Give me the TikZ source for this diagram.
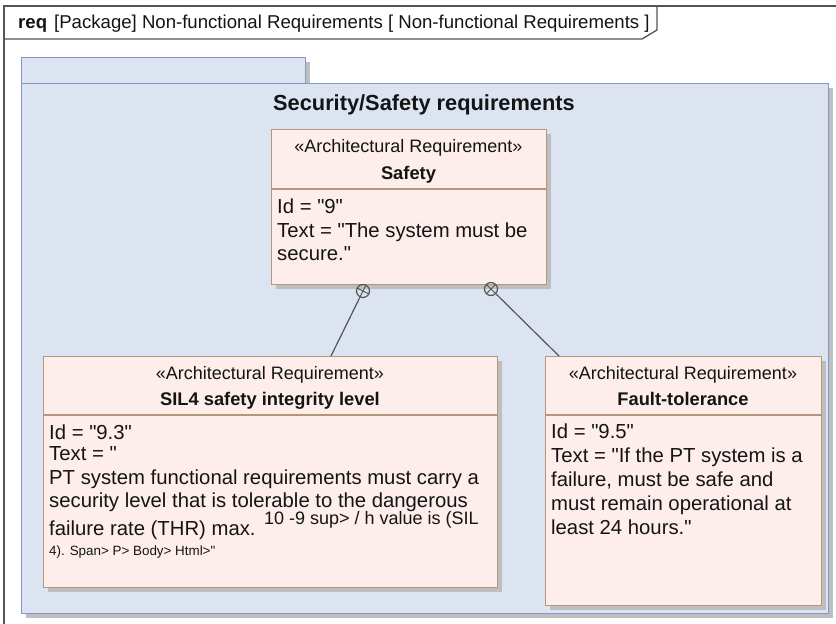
\documentclass[tikz,border=0pt]{standalone}
\usepackage{fontspec}
\setmainfont{Liberation Sans}
\usetikzlibrary{calc,shadows}

\definecolor{pkgfill}{RGB}{220,227,241}
\definecolor{pkgline}{RGB}{132,152,200}
\definecolor{reqfill}{RGB}{253,238,236}
\definecolor{reqline}{RGB}{182,150,122}
\definecolor{shade}{RGB}{190,190,190}
\definecolor{ink}{RGB}{20,20,20}
\definecolor{frameline}{RGB}{85,85,85}

\tikzset{
  boxshadow/.style={drop shadow={shadow xshift=4pt, shadow yshift=-4pt, fill=shade, opacity=1}},
  pkgbox/.style={draw=pkgline, fill=pkgfill, line width=1pt, boxshadow, inner sep=0pt, anchor=north west},
  reqbox/.style={draw=reqline, fill=reqfill, line width=1.4pt, boxshadow, inner sep=0pt, anchor=north west},
  divider/.style={draw=reqline, line width=1.4pt},
  frame/.style={draw=frameline, line width=1.3pt},
  hdrtext/.style={anchor=base west, inner sep=0pt, text=ink, font=\fontsize{18.6}{22}\selectfont},
  pkgtitle/.style={anchor=base, inner sep=0pt, text=ink, font=\fontsize{21.8}{26}\selectfont\bfseries},
  stereo/.style={anchor=base, inner sep=0pt, text=ink, font=\fontsize{18}{21}\selectfont},
  rname/.style={anchor=base, inner sep=0pt, text=ink, font=\fontsize{18.3}{22}\selectfont\bfseries},
  body/.style={anchor=base west, inner sep=0pt, text=ink, font=\fontsize{20.3}{24}\selectfont},
  smallbody/.style={anchor=base west, inner sep=0pt, text=ink, font=\fontsize{13.4}{16}\selectfont},
  suptext/.style={anchor=base west, inner sep=0pt, text=ink, font=\fontsize{18}{21}\selectfont},
  conn/.style={draw=frameline, line width=1.2pt},
  marker/.style={circle, draw=frameline, line width=1.2pt, minimum size=13pt, inner sep=0pt},
}

\begin{document}
\begin{tikzpicture}[x=1pt, y=-1pt]
  \useasboundingbox (0,0) rectangle (836,624);
  \fill[white] (0,0) rectangle (836,624);

  % diagram frame and its name tab
  \draw[frame] (4,624) -- (4,6) -- (836,6);
  \draw[frame] (4,39) -- (642,39) -- (657,30) -- (657,6);
  \node[hdrtext] (hdr) at (18,28)
    {\textbf{req}\hspace{7pt}[Package] Non-functional Requirements [ Non-functional Requirements ]};

  % package with its tab
  \node[pkgbox, minimum width=284pt, minimum height=26pt] (pkgtab) at (21,57) {};
  \node[pkgbox, minimum width=807pt, minimum height=530pt] (pkg) at (21,83) {};
  \node[pkgtitle] (pkgname) at (424,110) {Security/Safety requirements};

  % requirement: Safety
  \node[reqbox, minimum width=275pt, minimum height=155pt] (safety) at (271,129) {};
  \draw[divider] (safety.west |- 0,189) -- (safety.east |- 0,189);
  \node[stereo] (safetyst) at (408.5,152) {«Architectural Requirement»};
  \node[rname] (safetynm) at (408.5,179) {Safety};
  \node[body] (b1) at (277,213) {Id = \textquotedbl 9\textquotedbl};
  \node[body] (b2) at (277,237) {Text = \textquotedbl The system must be};
  \node[body] (b3) at (277,260) {secure.\textquotedbl};

  % requirement: SIL4 safety integrity level
  \node[reqbox, minimum width=454pt, minimum height=231pt] (sil) at (43,356) {};
  \draw[divider] (sil.west |- 0,415) -- (sil.east |- 0,415);
  \node[stereo] (silst) at (270,379) {«Architectural Requirement»};
  \node[rname] (silnm) at (270,405) {SIL4 safety integrity level};
  \node[body] (s1) at (49,439) {Id = \textquotedbl 9.3\textquotedbl};
  \node[body] (s2) at (49,460) {Text = \textquotedbl};
  \node[body] (s3) at (49,484) {PT system functional requirements must carry a};
  \node[body] (s4) at (49,507) {security level that is tolerable to the dangerous};
  \node[body] (s5) at (49,535) {failure rate (THR) max.};
  \node[suptext] (s6) at ([xshift=8pt, yshift=11pt]s5.base east) {10 -9 sup> / h value is (SIL};
  \node[smallbody] (s7) at (49,555) {4). Span> P> Body> Html>\textquotedbl};

  % requirement: Fault-tolerance
  \node[reqbox, minimum width=276pt, minimum height=249pt] (fault) at (545,356) {};
  \draw[divider] (fault.west |- 0,415) -- (fault.east |- 0,415);
  \node[stereo] (faultst) at (683,379) {«Architectural Requirement»};
  \node[rname] (faultnm) at (683,405) {Fault-tolerance};
  \node[body] (f1) at (551,438) {Id = \textquotedbl 9.5\textquotedbl};
  \node[body] (f2) at (551,462) {Text = \textquotedbl If the PT system is a};
  \node[body] (f3) at (551,486) {failure, must be safe and};
  \node[body] (f4) at (551,510) {must remain operational at};
  \node[body] (f5) at (551,534) {least 24 hours.\textquotedbl};

  % containment connectors
  \node[marker] (m1) at (363,291) {};
  \node[marker] (m2) at (491,289) {};
  \coordinate (e1) at (331,356);
  \coordinate (e2) at (559,356);
  \draw[conn] (m1) -- (e1);
  \draw[conn] (m2) -- (e2);
  \foreach \m/\e in {m1/e1, m2/e2} {
    \draw[conn, line width=1pt] ($(\m.center)!6.5pt!(\e)$) -- ($(\m.center)!-6.5pt!(\e)$);
    \draw[conn, line width=1pt] ($(\m.center)!6.5pt!90:(\e)$) -- ($(\m.center)!6.5pt!-90:(\e)$);
  }
\end{tikzpicture}
\end{document}
